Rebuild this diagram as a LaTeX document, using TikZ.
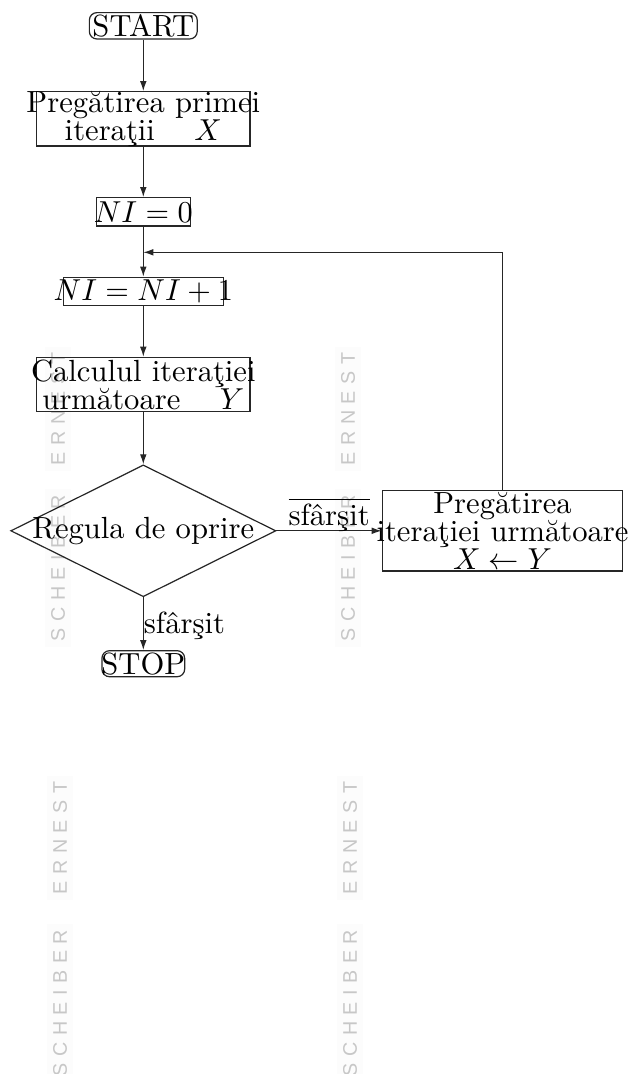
\documentclass[tikz,border=0pt]{standalone}
\usepackage{fontspec}
\usetikzlibrary{shapes.geometric,arrows.meta}
\newfontfamily\wmfont[LetterSpace=33]{Liberation Sans}
\begin{document}
\begin{tikzpicture}[x=0.33pt,y=-0.33pt,
  every node/.style={font=\fontsize{10.1}{9.2}\selectfont},
  box/.style={draw=black!85, line width=0.4pt, rectangle, inner sep=0pt},
  term/.style={box, rounded corners=2.5pt},
  dia/.style={draw=black!85, line width=0.4pt, diamond, inner sep=0pt},
  txt/.style={align=center, inner sep=0pt},
  lbl/.style={inner sep=0pt},
  arr/.style={draw=black!85, line width=0.4pt, -{Latex[length=3.3pt,width=2.2pt]}},
  wm/.style={rotate=90, text=black!22, fill=black!1, inner sep=2pt,
    font=\wmfont\fontsize{6.5}{7}\selectfont}
]
\useasboundingbox (0,0) rectangle (633,1074);
% watermark
\begin{scope}
\clip (0,0) rectangle (633,1074);
\node[wm] (w1) at (58,409) {ERNEST};
\node[wm] (w2) at (58,568) {SCHEIBER};
\node[wm] (w3) at (348,409) {ERNEST};
\node[wm] (w4) at (348,568) {SCHEIBER};
\node[wm] (w5) at (60,838) {ERNEST};
\node[wm] (w6) at (60,1003) {SCHEIBER};
\node[wm] (w7) at (350,838) {ERNEST};
\node[wm] (w8) at (350,1003) {SCHEIBER};
\end{scope}
% flowchart
\node[term, minimum width=35.6pt, minimum height=8.7pt,
  label={[txt]center:START}] (start) at (143.3,25.8) {};
\node[box, minimum width=70.4pt, minimum height=17.9pt,
  label={[txt]center:{Pregătirea primei\\iteraţii\hspace{13pt}$X$}}] (b1) at (143.3,118.8) {};
\node[box, minimum width=31pt, minimum height=9.3pt,
  label={[txt]center:{$NI=0$}}] (b2) at (143.3,211.8) {};
\node[box, minimum width=52.8pt, minimum height=9.4pt,
  label={[txt]center:{$NI=NI+1$}}] (b3) at (143.3,291.5) {};
\node[box, minimum width=70.4pt, minimum height=17.95pt,
  label={[txt]center:{Calculul iteraţiei\\următoare\hspace{13pt}$Y$}}] (b4) at (143.3,384.5) {};
\node[dia, minimum width=87.5pt, minimum height=43.5pt,
  label={[txt]center:{Regula de oprire}}] (d) at (143.3,530.8) {};
\node[box, minimum width=79.3pt, minimum height=26.5pt,
  label={[txt]center:{Pregătirea\\iteraţiei următoare\\$X\leftarrow Y$}}] (b5) at (502.5,530.8) {};
\node[term, minimum width=27.3pt, minimum height=8.6pt,
  label={[txt]center:STOP}] (stop) at (143.3,663.7) {};
\coordinate (join) at (143.3,252.3);
% connectors
\draw[arr] (start.south) -- (b1.north);
\draw[arr] (b1.south) -- (b2.north);
\draw[arr] (b2.south) -- (b3.north);
\draw[arr] (b3.south) -- (b4.north);
\draw[arr] (b4.south) -- (d.north);
\draw[arr] (d.east) -- node[lbl, pos=0.5, anchor=base, yshift=1.9pt] {$\overline{\mbox{sfârşit}}$} (b5.west);
\draw[arr] (d.south) -- node[lbl, pos=0.5, anchor=base west, yshift=-3.2pt] {sfârşit} (stop.north);
\draw[arr] (b5.north) |- (join);
\end{tikzpicture}
\end{document}
